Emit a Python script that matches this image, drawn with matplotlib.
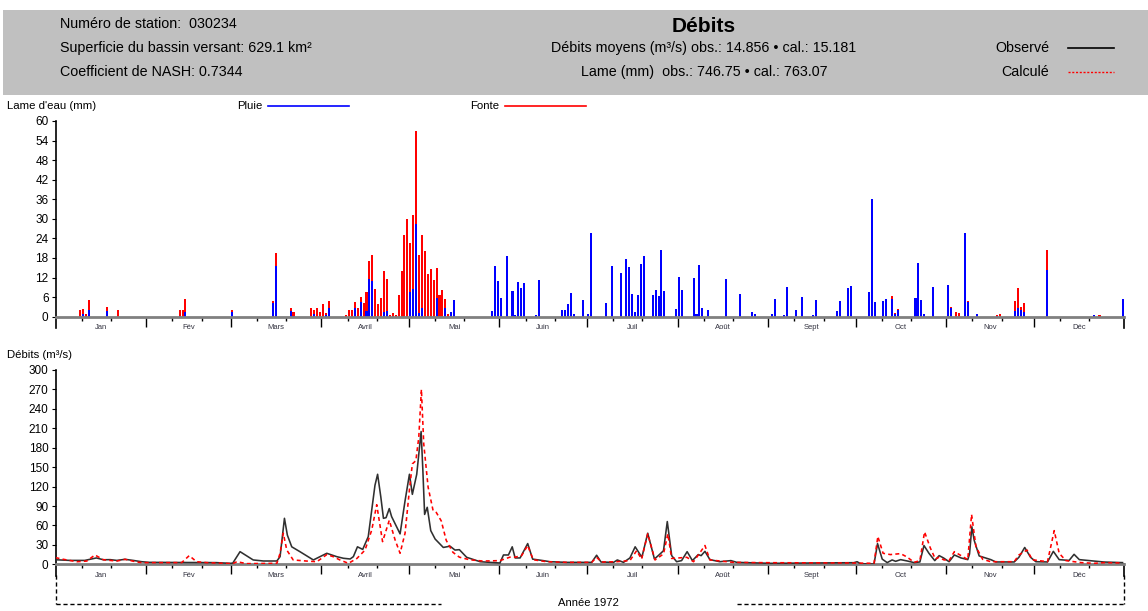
import matplotlib
matplotlib.use("Agg")
import matplotlib.pyplot as plt
from matplotlib.lines import Line2D
from matplotlib.patches import Rectangle

plt.rcParams['font.family'] = ['Liberation Sans', 'DejaVu Sans']

W, H = 1148, 611

# jours (0 = 1er janvier 1972) et lames d'eau (mm)
jours_barres = [8, 9, 10, 11, 17, 21, 42, 43, 44, 60, 74, 75, 80, 81, 87, 88, 89, 90, 91, 92, 93,
                99, 100, 101, 102, 103, 104, 105, 106, 107, 108, 109, 110, 111, 112, 113, 114, 115,
                116, 117, 118, 119, 120, 121, 122, 123, 124, 125, 126, 127, 128, 129, 130, 131, 132,
                133, 134, 135, 136,
                149, 150, 151, 152, 154, 156, 157, 158, 159, 160, 164, 165, 173, 174, 175, 176, 177,
                180, 182, 183, 188, 190, 193, 195, 196, 197, 198, 199, 200, 201, 204, 205, 206, 207,
                208, 212, 213, 214, 218, 219, 220, 221, 223, 229, 234, 238, 239, 245, 246, 249, 250,
                253, 255, 259, 260, 267, 268, 271, 272, 278, 279, 280, 283, 284, 286, 287, 288, 294,
                295, 296, 297, 300, 305, 306, 308, 309, 311, 312, 315, 322, 323, 328, 329, 330, 331,
                339, 355, 357, 365]
pluie = [0, 0.8, 0, 2.0, 1.7, 0, 0.3, 0, 1.3, 1.5, 4.1, 15.6, 1.8, 0.3, 0, 0.8, 0, 0, 0, 0.5, 2.6,
         0, 0, 0, 2.8, 0, 4.6, 0, 1.7, 11.5, 11.0, 0, 0, 0, 1.5, 1.8, 0, 0,
         0, 0, 0, 0, 0, 7.5, 8.5, 28.4, 1.0, 2.8, 0, 0, 0, 0, 5.8, 0, 0,
         2.6, 0, 1.3, 5.0,
         1.8, 15.5, 10.9, 5.6, 18.6, 7.9, 0.5, 10.5, 8.9, 10.2, 0.5, 11.2, 2.2, 2.2, 3.8, 7.2, 0.9,
         5.0, 0.7, 25.8, 4.1, 15.5, 13.3, 17.7, 15.1, 6.9, 1.3, 6.5, 16.2, 18.6, 6.5, 8.2, 6.3, 20.4,
         7.9, 2.4, 12.2, 8.2, 11.8, 0.9, 15.8, 2.6, 2.2, 11.6, 6.9, 1.3, 0.7, 0.7, 5.4, 0.4, 9.0,
         2.2, 5.9, 0.4, 5.0, 1.6, 4.7, 8.8, 9.3, 7.6, 36.0, 4.4, 4.8, 5.3, 5.3, 0.8, 2.2, 5.6,
         16.5, 5.0, 0.7, 9.0, 9.6, 2.6, 0, 0, 25.8, 4.4, 0.7, 0.2, 0, 1.6, 2.7, 2.0, 1.5,
         14.3, 0.5, 0, 5.4]
fonte = [2.0, 1.6, 0.7, 3.1, 1.2, 2.0, 1.9, 2.2, 4.1, 0.7, 0.7, 3.9, 0.8, 1.0, 2.6, 1.4, 2.6, 1.3, 3.9, 0.5, 2.1,
         0.5, 2.2, 2.2, 1.8, 2.6, 1.5, 4.1, 6.0, 5.6, 7.9, 8.5, 3.8, 5.6, 12.5, 9.8, 0.5, 1.0,
         0.4, 6.6, 14.0, 25.0, 30.1, 15.0, 22.7, 28.6, 17.9, 22.2, 20.1, 13.0, 14.6, 11.2, 9.0, 6.6, 8.1,
         2.7, 0.7, 0, 0,
         0, 0, 0, 0, 0, 0, 0, 0, 0, 0, 0, 0, 0, 0, 0, 0, 0,
         0, 0, 0, 0, 0, 0, 0, 0, 0, 0, 0, 0, 0, 0, 0, 0, 0,
         0, 0, 0, 0, 0, 0, 0, 0, 0, 0, 0, 0, 0, 0, 0, 0, 0,
         0, 0, 0, 0, 0, 0, 0, 0, 0, 0, 0, 0, 0.1, 0.9, 0.2, 0.1, 0,
         0, 0, 0, 0, 0, 0.3, 1.3, 1.0, 0, 0.3, 0, 0.4, 0.9, 3.2, 6.1, 0.9, 2.6,
         6.1, 0, 0.6, 0]

# debits observes (m3/s)
jours_obs = [0, 5, 10, 14, 16.4, 18.7, 21, 23.8, 26.6, 29.5, 32, 55, 57.5, 59.8, 60.7, 63.2, 65.5,
             67.7, 71.2, 75.8, 76.9, 78.4, 79.4, 80.9, 83.7, 88.3, 92.9, 94.6, 96.3, 98.6, 100.9,
             102, 103.4, 105.2, 107.1, 109.4, 110.3, 111.4, 112.3, 113.2, 114.3, 115.1, 118, 119.7,
             121.2, 122.2, 123.7, 125.2, 125.8, 126.4, 127.3, 128.5, 130, 131.7, 132.8, 135.1,
             136.8, 138.3, 140.8, 145.4, 152.2, 153.4, 155.1, 156.4, 157.4, 159.1, 161.7, 163.4,
             167, 169.3, 175, 183.6, 185.3, 186.8, 191.1, 192.4, 194.5, 196.7, 198.5, 200.8, 202.8,
             205.1, 206.8, 208.2, 209.5, 211, 212.7, 214.4, 216.3, 218.1, 220.1, 221.1, 222.4,
             224.1, 227.5, 231.3, 233.3, 244.7, 273.4, 274.5, 275.7, 280.3, 281.5, 283.1, 284.8,
             286.5, 287.7, 289.4, 291.7, 294, 296, 297.4, 299.1, 301.1, 302.6, 304.1, 306, 307.8,
             310.1, 312.4, 313, 313.8, 314.6, 316.3, 320.3, 322, 328.3, 329.9, 331.9, 333.9, 335.7,
             339.7, 341.7, 343.7, 347.1, 348.8, 350.6, 355.7, 359.1, 365.4]
debit_obs = [7, 6, 6, 9.8, 7, 7.2, 6, 7.7, 6, 4, 3, 2.6, 2, 1.5, 1.8, 19.5, 12.9,
             6.7, 5.1, 5.1, 11.8, 71, 45, 27, 19.5, 6.7, 17, 14.4, 11.8, 9.3, 8.2,
             11.8, 27, 23, 42.7, 122, 139, 104, 71, 72, 86, 73.6, 47, 98,
             139, 108, 139, 205, 145, 77, 88, 52, 39, 31, 26, 28,
             22, 22.6, 10.8, 4, 2, 14.4, 14.4, 27, 9.8, 9.8, 32, 8,
             5.7, 4, 3, 3, 14, 3.5, 3, 6.7, 3, 9.8, 27, 10.8, 48,
             8.2, 15, 21, 66, 13.4, 4, 5.7, 19.5, 5.7, 15, 13.4, 20,
             7.2, 4, 5.7, 3, 1.5, 2.5, 4, 0.8, 0.5, 32, 8, 2.6,
             6.7, 4.6, 7.2, 5.1, 2.6, 3.6, 29, 17, 5.7, 13.4, 9.8, 4, 14.4,
             9.8, 7.2, 16, 58, 37, 12.9, 7.2, 3.6, 3.6, 10.8, 26, 10.8, 4,
             3.6, 20, 7.2, 6, 15.4, 7.2, 5, 3.5, 2.6]

# debits calcules (m3/s)
jours_cal = [0, 2.7, 7.3, 10.7, 13.5, 16.4, 21, 23.8, 27.8, 29.5, 43.2, 45.8, 48.3, 51.8, 60.7, 62.1,
             65.5, 75.8, 76.9, 78, 79.2, 81.4, 86, 89.5, 92.9, 95.1, 97.4, 100.3, 103.2, 106, 108.3,
             110, 112, 114.3, 116.3, 118, 119.7, 121.2, 122.2, 123.4, 124.4, 125.3, 126.1, 127.6,
             129.3, 130.4, 132.1, 133.8, 136.1, 138.3, 141.8, 146.4, 152.2, 155.6, 157.4, 159.6,
             161.7, 163.6, 168.2, 175, 183.6, 185.3, 187, 192.1, 196.7, 199, 200.7, 202.8, 205.3,
             208.2, 209.7, 211, 216.2, 218.5, 222.4, 224.1, 232.1, 243.5, 273.4, 280.3, 281.6,
             283.4, 285.9, 289.4, 291.7, 294, 296, 297.6, 299.6, 301.3, 302.6, 304.1, 306, 307.8,
             310.1, 312.4, 313.7, 315.2, 317.5, 320.3, 328.3, 329.9, 332.7, 334.5, 339.7, 342,
             343.7, 346, 351.2, 355.7, 359.1, 365.4]
debit_cal = [10.3, 7.7, 4, 5, 14.4, 7, 5, 7.7, 3.6, 2.6, 2.6, 13.4, 4, 2.6, 1, 4,
             1, 1.5, 17, 48, 22, 6.7, 5, 4, 15, 11.8, 6.7, 1.5, 9, 22, 53,
             92, 35, 68, 37.5, 17, 48, 115, 155, 160, 196, 270, 186, 119,
             83, 80, 67, 37, 18.5, 11, 7, 5, 5.7, 11, 11, 13.4,
             29, 7, 4, 3, 3, 10.8, 3.5, 4, 5.7, 21, 8, 47, 6.7,
             16, 47, 9, 10.8, 4, 29, 6.7, 3, 2.5, 2, 1.5, 43,
             17, 15, 16.5, 11, 3, 5.7, 50, 25, 8, 11, 7, 5.7, 19.5,
             13.4, 7.2, 77, 27, 7.7, 4, 4, 14.4, 22, 7, 4, 52,
             17, 5.7, 2.6, 1.5, 2.6, 2]

mois = ["Jan", "Fév", "Mars", "Avril", "Mai", "Juin", "Juil", "Août", "Sept", "Oct", "Nov", "Déc"]
debut_mois = [0, 31, 60, 91, 121, 152, 182, 213, 244, 274, 305, 335, 366]


def fx(x):
    return x / W


def fy(y):
    return 1 - y / H


fig = plt.figure(figsize=(W / 100, H / 100), dpi=100)

# bandeau gris
fig.add_artist(Rectangle((fx(3), fy(95)), 1 - fx(3), (95 - 10) / H, transform=fig.transFigure,
                         facecolor='#c0c0c0', edgecolor='none', zorder=0))
fs = 10.3
fig.text(fx(60), fy(24), "Numéro de station:  030234", fontsize=fs, va='center')
fig.text(fx(60), fy(48), "Superficie du bassin versant: 629.1 km²", fontsize=fs, va='center')
fig.text(fx(60), fy(72), "Coefficient de NASH: 0.7344", fontsize=fs, va='center')
fig.text(fx(704), fy(26), "Débits", fontsize=15, fontweight='bold', ha='center', va='center')
fig.text(fx(704), fy(48), "Débits moyens (m³/s) obs.: 14.856 • cal.: 15.181", fontsize=fs,
         ha='center', va='center')
fig.text(fx(704), fy(72), "Lame (mm)  obs.: 746.75 • cal.: 763.07", fontsize=fs,
         ha='center', va='center')
fig.text(fx(1049), fy(48), "Observé", fontsize=fs, ha='right', va='center')
fig.text(fx(1049), fy(72), "Calculé", fontsize=fs, ha='right', va='center')
fig.add_artist(Line2D([fx(1068), fx(1114)], [fy(48), fy(48)], color='black', lw=1.2))
fig.add_artist(Line2D([fx(1068), fx(1114)], [fy(72), fy(72)], color='red', lw=1,
                      dashes=(1.5, 1.2)))

# legende pluie / fonte
fig.text(fx(7), fy(106), "Lame d'eau (mm)", fontsize=8.2, va='center')
fig.text(fx(262), fy(106), "Pluie", fontsize=8.2, va='center', ha='right')
fig.add_artist(Line2D([fx(268), fx(349)], [fy(106), fy(106)], color='blue', lw=1.2))
fig.text(fx(499), fy(106), "Fonte", fontsize=8.2, va='center', ha='right')
fig.add_artist(Line2D([fx(505), fx(586)], [fy(106), fy(106)], color='red', lw=1.2))
fig.text(fx(7), fy(355), "Débits (m³/s)", fontsize=8.2, va='center')

x0, x1 = 55.5, 1124.3
ax1 = fig.add_axes([fx(x0), fy(316.7), (x1 - x0) / W, (316.7 - 121) / H])
ax2 = fig.add_axes([fx(x0), fy(564.3), (x1 - x0) / W, (564.3 - 370) / H])

centres = [d + 0.5 for d in jours_barres]
ax1.bar(centres, pluie, width=0.7, color='#0000ff', linewidth=0)
ax1.bar(centres, fonte, bottom=pluie, width=0.7, color='#ff0000', linewidth=0)
ax1.set_ylim(0, 60)
ax1.set_yticks(range(0, 61, 6))

ax2.plot(jours_obs, debit_obs, color='#303030', lw=1.15, zorder=3)
ax2.plot(jours_cal, debit_cal, color='red', lw=1.15, dashes=(2.5, 2), zorder=4)
ax2.set_ylim(0, 300)
ax2.set_yticks(range(0, 301, 30))

majeurs = debut_mois[1:-1]
mineurs = [d + k for d in debut_mois[:-1] for k in (9, 19)]
milieux = [(debut_mois[i] + debut_mois[i + 1]) / 2 for i in range(12)]

for ax, yl in ((ax1, -0.053), (ax2, -0.058)):
    ax.set_xlim(0, 366)
    for s in ('top', 'right'):
        ax.spines[s].set_visible(False)
    ax.spines['left'].set_linewidth(1.2)
    ax.spines['bottom'].set_color('#808080')
    ax.spines['bottom'].set_linewidth(2)
    ax.set_xticks(majeurs)
    ax.set_xticks(mineurs, minor=True)
    ax.set_xticklabels([])
    ax.tick_params(axis='x', which='major', length=7, width=1, color='black')
    ax.tick_params(axis='x', which='minor', length=3, width=1, color='black')
    ax.tick_params(axis='y', length=3, width=0.8, labelsize=8.5, pad=2)
    for m, c in zip(mois, milieux):
        ax.text(c, yl, m, transform=ax.get_xaxis_transform(), ha='center', va='center',
                fontsize=5.5, color='#333340')
    ax.plot([0, 0], [0, -0.06], transform=ax.transAxes, color='black', lw=1.2, clip_on=False)
    ax.plot([1, 1], [0, -0.06], transform=ax.transAxes, color='black', lw=1.2, clip_on=False)

# annee
fig.text(fx(588), fy(603), "Année 1972", fontsize=8.1, ha='center', va='center')
for xa, xb in ((55.5, 441), (737, 1124.3)):
    fig.add_artist(Line2D([fx(xa), fx(xb)], [fy(604), fy(604)], color='black', lw=1,
                          dashes=(3, 2)))
for xv in (55.5, 1124.3):
    fig.add_artist(Line2D([fx(xv), fx(xv)], [fy(575), fy(604)], color='black', lw=1,
                          dashes=(3, 2)))

fig.savefig("out.png", dpi=100)
